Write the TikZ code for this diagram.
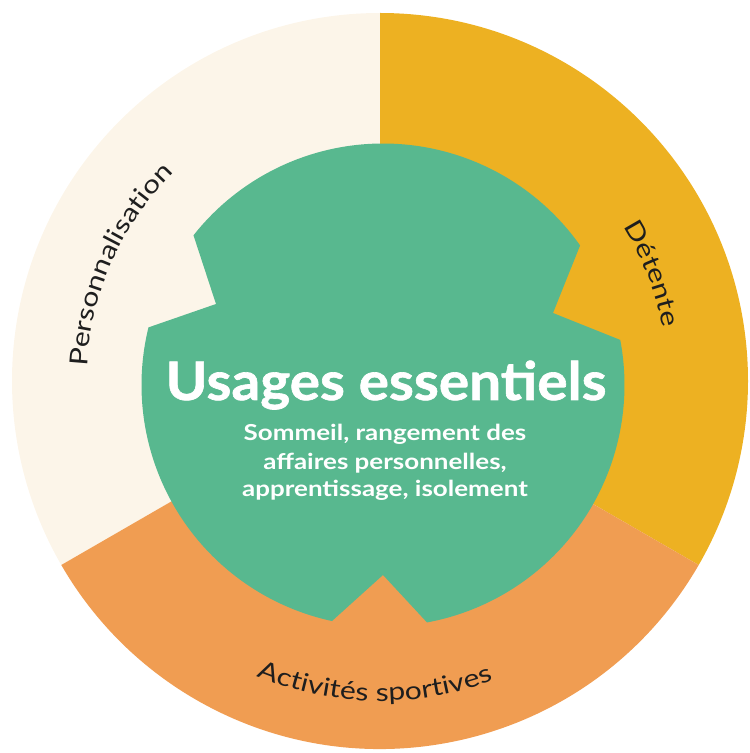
\documentclass[tikz,border=0pt]{standalone}
\usepackage{fontspec}
\setmainfont{Lato}
\newfontfamily\titlefont[FakeStretch=1.07,FakeBold=1.2]{Lato}
\newfontfamily\subfont[FakeStretch=1.18]{Lato}
\newfontfamily\labelfont[FakeStretch=1.2]{Lato}
\usetikzlibrary{decorations.text}
\definecolor{creamc}{HTML}{FCF5E9}
\definecolor{yellowc}{HTML}{EDB122}
\definecolor{orangec}{HTML}{F09D52}
\definecolor{greenc}{HTML}{58B88F}
\definecolor{labeltext}{HTML}{1E1E1E}
\tikzset{
  titletext/.style={anchor=base, text=white, font=\titlefont\bfseries\fontsize{53pt}{53pt}\selectfont, inner sep=0pt},
  subtext/.style={anchor=base, text=white, font=\subfont\bfseries\fontsize{22pt}{22pt}\selectfont, inner sep=0pt},
  curvelabel/.style={decorate, decoration={text along path, text align=center, text color=labeltext, text={|\labelfont\fontsize{25pt}{25pt}\selectfont|#1}}}
}
\begin{document}
\begin{tikzpicture}[x=1pt,y=1pt]
\useasboundingbox (0,0) rectangle (750,753);
\begin{scope}[shift={(380,372)}]
  % outer sectors
  \fill[creamc] (0,0) -- (90:368pt) arc[start angle=90,end angle=210,radius=368pt] -- cycle;
  \fill[yellowc] (0,0) -- (90:368pt) arc[start angle=90,end angle=-30,radius=368pt] -- cycle;
  \fill[orangec] (0,0) -- (-30:368pt) arc[start angle=-30,end angle=-150,radius=368pt] -- cycle;
  % inner green shape with three notches
  \begin{scope}[shift={(3,-4)}]
    \fill[greenc] (35.3:241.5pt) arc[start angle=35.3,end angle=141.7,radius=241.5pt]
      -- (-167,81) -- (166.2:241.5pt)
      arc[start angle=166.2,end angle=257.8,radius=241.5pt]
      -- (0,-190) -- (280.5:241.5pt)
      arc[start angle=280.5,end angle=370.75,radius=241.5pt]
      -- (170,72) -- cycle;
  \end{scope}
  % curved labels
  \path[curvelabel=Personnalisation] (201:293pt) arc[start angle=201,end angle=111,radius=293pt];
  \path[curvelabel=Détente] (66.5:288pt) arc[start angle=66.5,end angle=-23.5,radius=288pt];
  \path[curvelabel={Activités sportives}] (-136:320pt) arc[start angle=-136,end angle=-46,radius=320pt];
  % centre texts
  \node[titletext] (title) at (6,-19) {Usages essentiels};
  \node[subtext] (sub1) at (5,-60) {Sommeil, rangement des};
  \node[subtext] (sub2) at (5,-89) {affaires personnelles,};
  \node[subtext] (sub3) at (5,-116) {apprentissage, isolement};
\end{scope}
\end{tikzpicture}
\end{document}
